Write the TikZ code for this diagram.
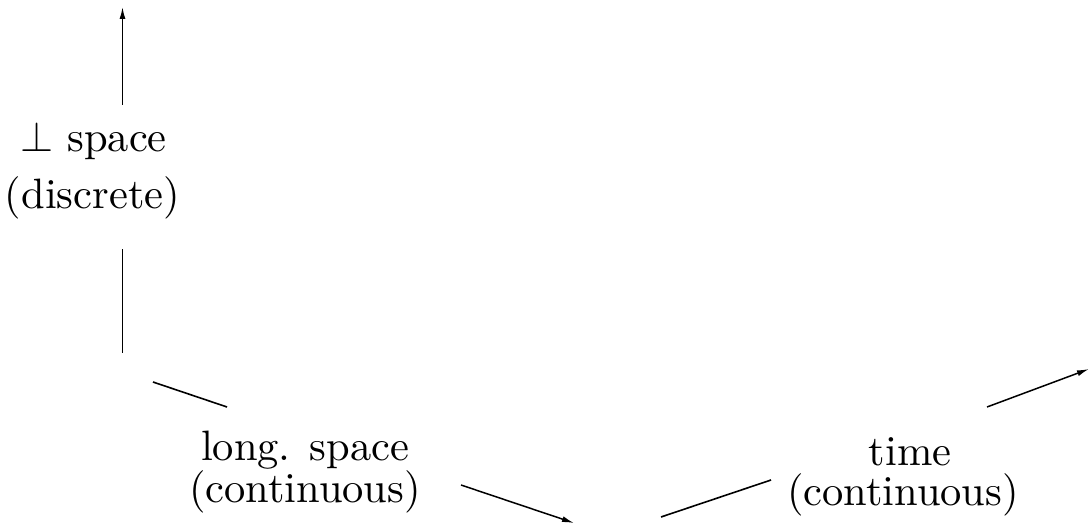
\RequirePackage{fix-cm}
\documentclass[tikz,border=0pt]{standalone}
\usepackage{fontspec}
\usetikzlibrary{arrows.meta}
\begin{document}
\begin{tikzpicture}[x=1pt,y=1pt,
  axis/.style={line width=1.6pt},
  axisarrow/.style={line width=1.5pt,-{Latex[length=12pt,width=6pt]}},
  lbl/.style={anchor=base,inner sep=0pt,scale=4.25,font=\fontsize{10}{12}\selectfont}]
\useasboundingbox (0,0) rectangle (1089,522);
% vertical axis
\coordinate (v1s) at (122.5,169);
\coordinate (v1e) at (122.5,273);
\coordinate (v2s) at (122.5,417);
\coordinate (v2e) at (122.5,515);
% longitudinal axis
\coordinate (l1s) at (153,140);
\coordinate (l1e) at (227,115);
\coordinate (l2s) at (461,37);
\coordinate (l2e) at (574,-1);
% time axis
\coordinate (t1s) at (661,5);
\coordinate (t1e) at (771,42);
\coordinate (t2s) at (987,115);
\coordinate (t2e) at (1089,153);
\draw[axis] (v1s) -- (v1e);
\draw[axisarrow] (v2s) -- (v2e);
\draw[axis] (l1s) -- (l1e);
\draw[axisarrow] (l2s) -- (l2e);
\draw[axis] (t1s) -- (t1e);
\draw[axisarrow] (t2s) -- (t2e);
% labels
\node[lbl] (perpA) at (93.5,370) {$\perp$ space};
\node[lbl] (perpB) at (92.5,313) {(discrete)};
\node[lbl] (longA) at (305,62) {long. space};
\node[lbl] (longB) at (305,20) {(continuous)};
\node[lbl] (timeA) at (910,57) {time};
\node[lbl] (timeB) at (903,17) {(continuous)};
\end{tikzpicture}
\end{document}
